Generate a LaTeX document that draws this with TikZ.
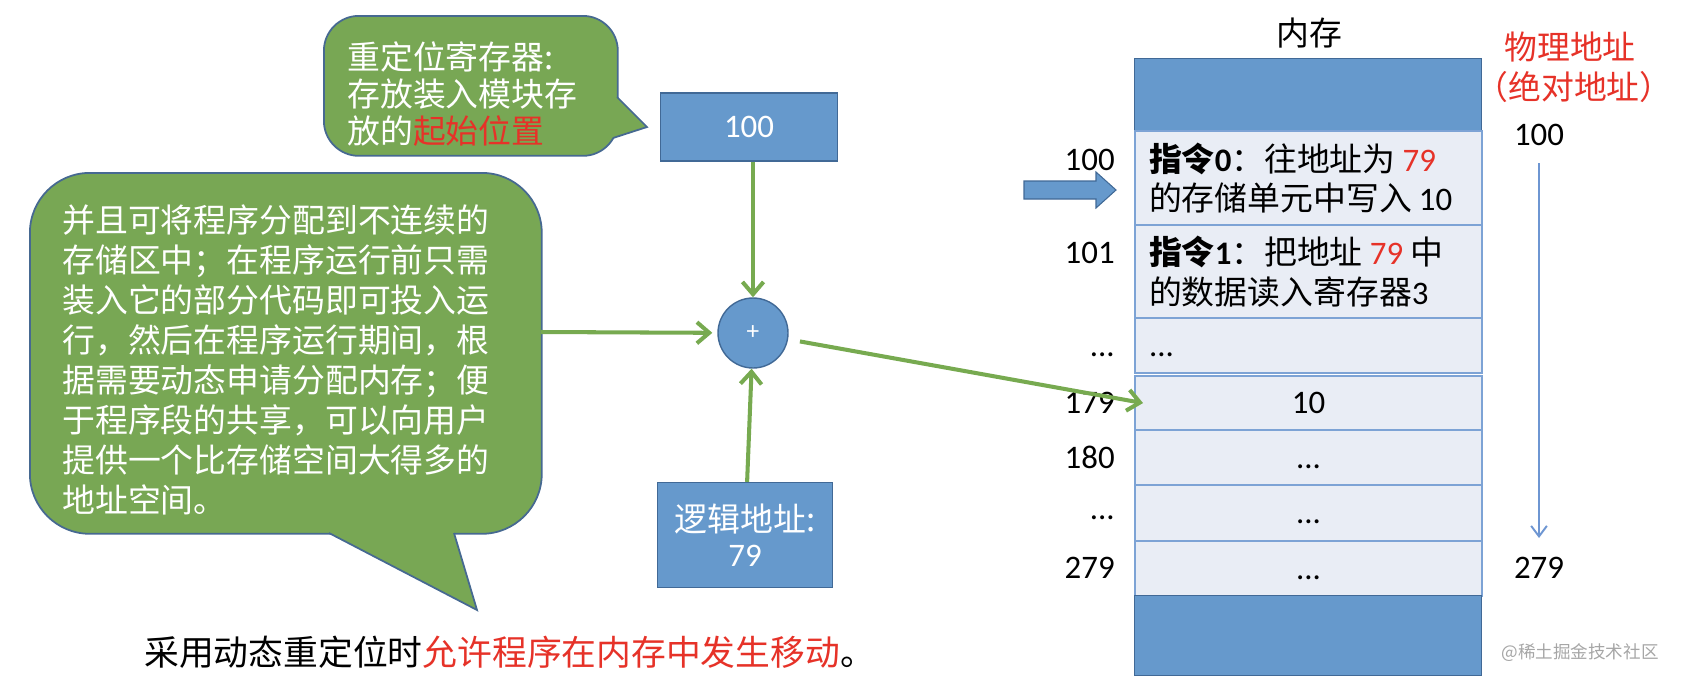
\documentclass[tikz,border=0pt]{standalone}
\usepackage{fontspec}
\setmainfont{Noto Sans CJK SC}
\newfontfamily\lat{Carlito}
\usetikzlibrary{arrows.meta}

\definecolor{notegreen}{RGB}{120,167,84}
\definecolor{noteline}{RGB}{70,105,145}
\definecolor{boxblue}{RGB}{102,153,204}
\definecolor{boxline}{RGB}{65,105,150}
\definecolor{cellfill}{RGB}{233,237,245}
\definecolor{cellline}{RGB}{125,163,213}
\definecolor{flowgreen}{RGB}{119,170,80}
\definecolor{hlred}{RGB}{230,50,40}
\definecolor{addrblue}{RGB}{110,150,210}

\newcommand\bodysize{\fontsize{18.7pt}{22.7pt}\selectfont}

\tikzset{
  note/.style={fill=notegreen, draw=noteline, line width=1pt, anchor=north west, inner sep=0pt},
  bluebox/.style={fill=boxblue, draw=boxline, line width=0.8pt, text=white, inner sep=0pt},
  cell/.style={fill=cellfill, draw=cellline, line width=1.2pt, anchor=north west,
    inner xsep=0.28cm, inner ysep=0pt, text width=6.38cm, font=\bodysize},
  block/.style={fill=boxblue, draw=boxline, line width=0.8pt, anchor=north west,
    minimum width=6.94cm, inner sep=0pt},
  flow/.style={flowgreen, line width=2.3pt, -{Straight Barb[length=7pt,width=12pt]}},
  addr/.style={addrblue, line width=1.1pt, -{Straight Barb[length=6pt,width=9pt]}},
  lbl/.style={font=\bodysize\lat, inner sep=0pt},
}

\begin{document}
\begin{tikzpicture}[x=0.02cm, y=-0.02cm]
  \useasboundingbox (0,0) rectangle (1682,684);

  % relocation register note
  \node[note, rounded corners=0.7cm, minimum width=5.88cm, minimum height=2.8cm] (regnote) at (323,15) {};
  \fill[notegreen] (617,97) -- (647,127) -- (613,138) -- (607,132) -- (610,97) -- cycle;
  \draw[noteline, line width=1pt] (617,97) -- (647,127) -- (613,138);
  \node[text=white, font=\fontsize{18.7pt}{21pt}\selectfont, align=left, anchor=west, inner sep=0pt]
    (regtext) at (347,94) {重定位寄存器:\\存放装入模块存\\放的{\color{hlred}起始位置}};

  % big note
  \node[note, rounded corners=1.2cm, minimum width=10.24cm, minimum height=7.22cm] (bignote) at (29,172) {};
  \fill[notegreen] (329,533) -- (477,610) -- (454,533) -- (454,525) -- (329,525) -- cycle;
  \draw[noteline, line width=1pt] (329,533) -- (477,610) -- (454,533);
  \node[text=white, font=\bodysize, align=left, anchor=west, inner sep=0pt] (bigtext) at (62,360)
    {并且可将程序分配到不连续的\\存储区中；在程序运行前只需\\装入它的部分代码即可投入运\\行，然后在程序运行期间，根\\据需要动态申请分配内存；便\\于程序段的共享，可以向用户\\提供一个比存储空间大得多的\\地址空间。};
  \coordinate (bigedge) at (541,332);

  % register, adder, logical address
  \node[bluebox, minimum width=3.54cm, minimum height=1.36cm, font=\bodysize\lat] (reg100) at (749,127) {100};
  \node[bluebox, circle, minimum size=1.4cm, font=\lat\Large] (plus) at (753,333) {+};
  \node[bluebox, minimum width=3.5cm, minimum height=2.1cm, align=center,
    font=\fontsize{18.7pt}{19.8pt}\selectfont] (logic) at (745,535) {逻辑地址:\\{\lat 79}};

  % memory
  \node[font=\bodysize] (memtitle) at (1309,33) {内存};
  \node[block, minimum height=1.44cm] (topblk) at (1134,58) {};
  \node[cell, minimum height=1.88cm, align=left] (c100) at (1134,130)
    {{\bfseries 指令\lat 0}：往地址为\hspace{4pt}{\lat\color{hlred}79}\\的存储单元中写入\hspace{4pt}{\lat 10}};
  \node[cell, minimum height=1.86cm, align=left] (c101) at (1134,224)
    {{\bfseries 指令\lat 1}：把地址\hspace{4pt}{\lat\color{hlred}79}\hspace{4pt}中\\的数据读入寄存器{\lat 3}};
  \node[cell, minimum height=1.1cm, align=left] (cgap) at (1134,317) {\lat\vphantom{1}...};
  \node[cell, minimum height=1.08cm, align=center] (c179) at (1134,375) {\lat 10};
  \node[cell, minimum height=1.1cm, align=center] (c180) at (1134,429) {\lat\vphantom{1}...};
  \node[cell, minimum height=1.12cm, align=center] (cgap2) at (1134,484) {\lat\vphantom{1}...};
  \node[cell, minimum height=1.1cm, align=center] (c279) at (1134,540) {\lat\vphantom{1}...};
  \node[block, minimum height=1.6cm] (botblk) at (1134,595) {};

  % address labels
  \node[lbl, anchor=east] (a100) at (1115,160) {100};
  \node[lbl, anchor=east] (a101) at (1115,253) {101};
  \node[lbl, anchor=east] (agap) at (1115,355) {...};
  \node[lbl, anchor=east] (a179) at (1115,403) {179};
  \node[lbl, anchor=east] (a180) at (1115,457) {180};
  \node[lbl, anchor=east] (agap2) at (1115,518) {...};
  \node[lbl, anchor=east] (a279) at (1115,568) {279};

  % pointer to current instruction
  \draw[fill=boxblue, draw=boxline, line width=0.6pt] (1024,181) -- (1096,181) -- (1096,172) -- (1116,190)
    -- (1096,208) -- (1096,199) -- (1024,199) -- cycle;

  % physical addresses
  \node[font=\bodysize, text=hlred] (phys) at (1570,47) {物理地址};
  \node[font=\bodysize, text=hlred] (physabs) at (1574,87) {（绝对地址）};
  \node[lbl] (p100) at (1539,135) {100};
  \node[lbl] (p279) at (1539,568) {279};
  \draw[addr, shorten <=0.34cm, shorten >=0.38cm] (p100) -- (p279);

  % connectors
  \draw[flow] (reg100.south -| plus) -- (plus);
  \draw[flow] (logic) -- (plus);
  \draw[flow, shorten >=0.1cm] (bigedge) -- (plus);
  \draw[flow, shorten <=0.24cm] (plus) -- ([xshift=0.18cm]c179.west);

  % caption
  \node[anchor=west, inner sep=0pt, font=\fontsize{19.8pt}{24pt}\selectfont] (caption) at (144,652)
    {采用动态重定位时{\color{hlred}允许程序在内存中发生移动}。};
  \node[font=\fontsize{10pt}{12pt}\selectfont, text=black!35] (mark) at (1580,653) {@稀土掘金技术社区};
\end{tikzpicture}
\end{document}
